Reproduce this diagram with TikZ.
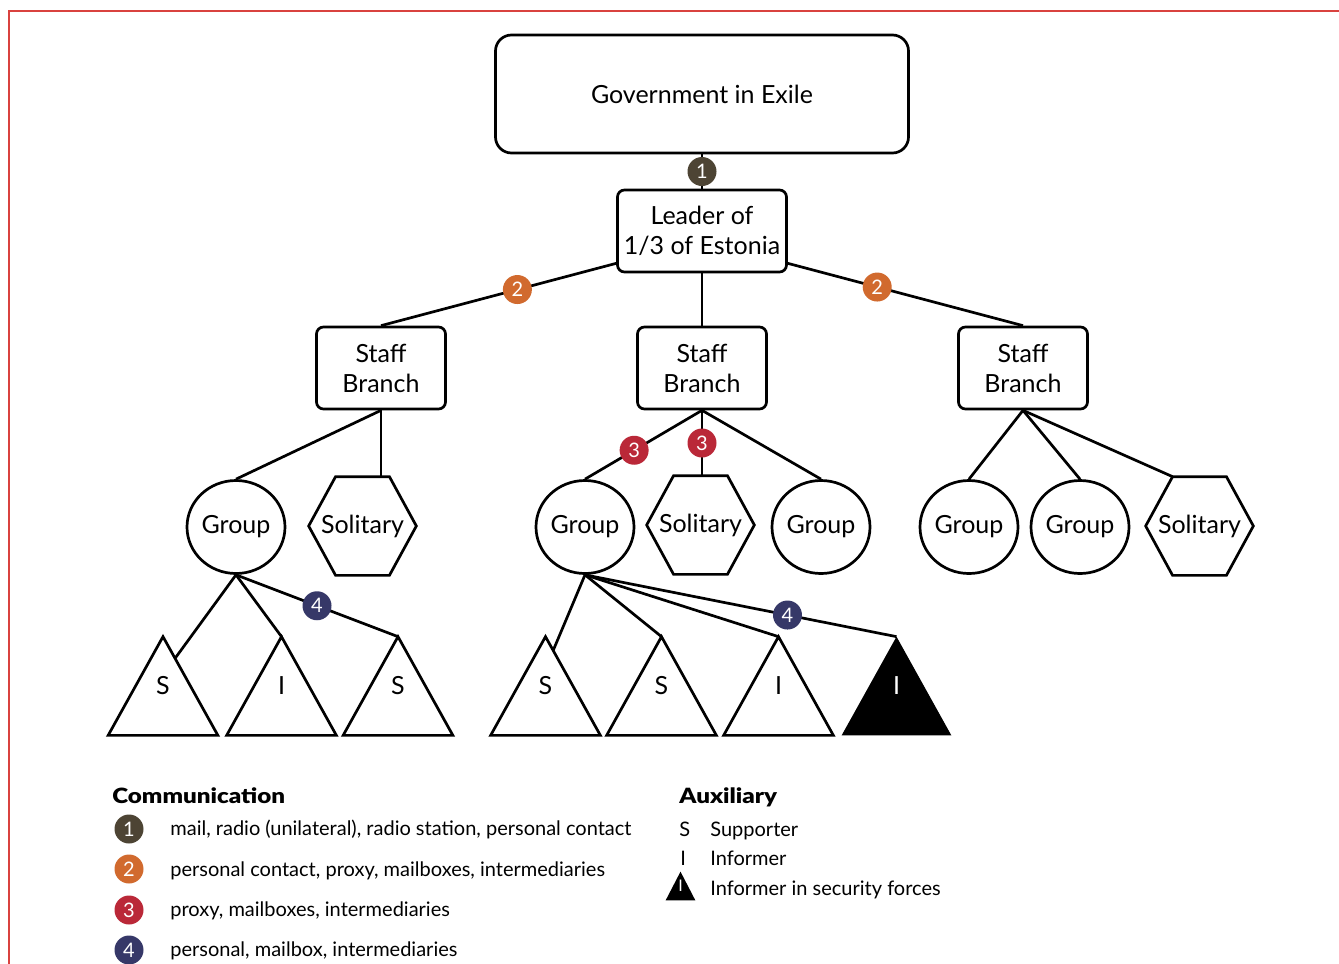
\documentclass[tikz,border=0pt]{standalone}
\usepackage{fontspec}
\setmainfont{Lato}
\newfontfamily\headfont{Lato}[UprightFont=* Black, FakeStretch=1.15]
\usepackage{xcolor}
\usepackage{tikz}
\usetikzlibrary{shapes.geometric}
\usetikzlibrary{backgrounds}
\usetikzlibrary{calc}
\definecolor{framered}{HTML}{D9423F}
\definecolor{commA}{HTML}{4D4434}
\definecolor{commB}{HTML}{D16A2E}
\definecolor{commC}{HTML}{BA2838}
\definecolor{commD}{HTML}{363868}
\newcommand{\nodefont}{\fontsize{25}{30}\selectfont}
\newcommand{\keyfont}{\fontsize{20}{23}\selectfont}

\begin{document}
\begin{tikzpicture}[x=1pt, y=-1pt, line width=2.7pt,
	box/.style={draw, rounded corners=7pt, align=center, font=\nodefont, inner sep=0pt},
	groupnode/.style={draw, ellipse, minimum width=98pt, minimum height=93pt, inner sep=0pt, font=\nodefont},
	solitary/.style={minimum width=105pt, minimum height=96pt, inner sep=0pt, font=\nodefont},
	aux/.style={minimum width=107pt, minimum height=96pt, inner sep=0pt, font=\nodefont},
	badge/.style={circle, fill=#1, text=white, minimum size=29pt, inner sep=0pt, font=\keyfont},
	keytext/.style={anchor=base west, inner sep=0pt, font=\keyfont},
	keyhead/.style={anchor=base west, inner sep=0pt, font=\fontsize{21}{24}\headfont}]
	\useasboundingbox (0,0) rectangle (1339,964);
	\draw[framered, line width=1.5pt] (9,964) |- (1339,11);

	\node (gov) at (702,94) [box, minimum width=413pt, minimum height=118pt, rounded corners=16pt]
		{Government in Exile};
	\node (lead) at (702,231) [box, minimum width=169pt, minimum height=82pt]
		{Leader of\\1/3 of Estonia};
	\node (sb1) at (381,368) [box, minimum width=129pt, minimum height=82pt] {Staff\\Branch};
	\node (sb2) at (702,368) [box, minimum width=129pt, minimum height=82pt] {Staff\\Branch};
	\node (sb3) at (1023,368) [box, minimum width=129pt, minimum height=82pt] {Staff\\Branch};

	\node (g1) at (236,527) [groupnode] {Group};
	\node (s1) at (362.5,526) [solitary] {Solitary};
	\node (g2) at (585,527) [groupnode] {Group};
	\node (s2) at (700.5,525) [solitary] {Solitary};
	\node (g3) at (821,527) [groupnode] {Group};
	\node (g4) at (969,527) [groupnode] {Group};
	\node (g5) at (1080,527) [groupnode] {Group};
	\node (s3) at (1199.5,526) [solitary] {Solitary};

	\foreach \s in {s1,s2,s3}
		\draw ($(\s.north west)!0.25!(\s.north east)$) -- ($(\s.north west)!0.75!(\s.north east)$)
			-- (\s.east) -- ($(\s.south west)!0.75!(\s.south east)$)
			-- ($(\s.south west)!0.25!(\s.south east)$) -- (\s.west) -- cycle;

	\node (ta1) at (163,686) [aux] {S};
	\node (ta2) at (281.5,686) [aux] {I};
	\node (ta3) at (398,686) [aux] {S};
	\node (tb1) at (545.5,686) [aux] {S};
	\node (tb2) at (661.5,686) [aux] {S};
	\node (tb3) at (778.5,686) [aux] {I};
	\node (tb4) at (896.5,686) [aux, text=white] {I};

	\foreach \t in {ta1,ta2,ta3,tb1,tb2,tb3}
		\draw (\t.north) -- (\t.south east) -- (\t.south west) -- cycle;
	\begin{scope}[on background layer]
		\fill (tb4.north) -- (tb4.south east) -- (tb4.south west) -- cycle;
	\end{scope}

	\draw (gov) -- node[badge=commA]{1} (lead);
	\draw ([yshift=10pt]lead.south west) -- node[pos=0.42, badge=commB]{2} (sb1.north);
	\draw ([yshift=10pt]lead.south east) -- node[pos=0.38, badge=commB]{2} (sb3.north);
	\draw (lead) -- (sb2);

	\draw (sb1.south) -- (g1.north);
	\draw (sb1.south) -- (sb1.south |- s1.north);
	\draw (sb2.south) -- node[pos=0.58, badge=commC]{3} (g2.north);
	\draw (sb2.south) -- node[badge=commC]{3} (sb2.south |- s2.north);
	\draw (sb2.south) -- (g3.north);
	\draw (sb3.south) -- (g4.north);
	\draw (sb3.south) -- (g5.north);
	\draw (sb3.south) -- ($(s3.north west)!0.25!(s3.north east)$);

	\draw (g1.south) -- ($(ta1.north)!0.22!(ta1.south east)$);
	\draw (g1.south) -- (ta2.north);
	\draw (g1.south) -- node[badge=commD]{4} (ta3.north);
	\draw (g2.south) -- ($(tb1.north)!0.14!(tb1.south east)$);
	\draw (g2.south) -- (tb2.north);
	\draw (g2.south) -- (tb3.north);
	\draw (g2.south) -- node[pos=0.65, badge=commD]{4} (tb4.north);

	\node (comm) at (111,803) [keyhead] {Communication};
	\node (k1) at (129,829) [badge=commA] {1};
	\node (k2) at (129,869) [badge=commB] {2};
	\node (k3) at (129,910) [badge=commC] {3};
	\node (k4) at (129,950) [badge=commD] {4};
	\node (k1t) at (169,835) [keytext] {mail, radio (unilateral), radio station, personal contact};
	\node (k2t) at (169,876) [keytext] {personal contact, proxy, mailboxes, intermediaries};
	\node (k3t) at (169,916) [keytext] {proxy, mailboxes, intermediaries};
	\node (k4t) at (169,956) [keytext] {personal, mailbox, intermediaries};

	\node (aux) at (678,803) [keyhead] {Auxiliary};
	\node (xs) at (678,836) [keytext] {S};
	\node (xi) at (679,865) [keytext] {I};
	\node (xsec) at (680.5,886) [minimum width=27pt, minimum height=26pt, inner sep=0pt,
		font=\fontsize{16}{18}\selectfont, text=white] {I};
	\begin{scope}[on background layer]
		\fill (xsec.north) -- (xsec.south east) -- (xsec.south west) -- cycle;
	\end{scope}
	\node (xst) at (709,836) [keytext] {Supporter};
	\node (xit) at (709,865) [keytext] {Informer};
	\node (xsect) at (709,895) [keytext] {Informer in security forces};
\end{tikzpicture}
\end{document}
